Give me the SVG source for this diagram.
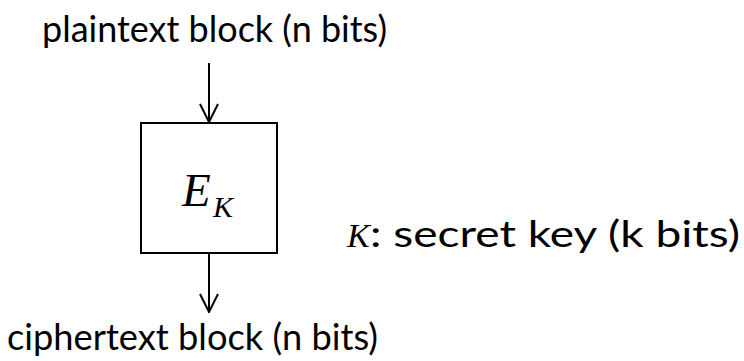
<svg xmlns="http://www.w3.org/2000/svg" width="744" height="361" viewBox="0 0 744 361">
<defs>
<style>
.lbl{font-family:Lato,"Open Sans","Liberation Sans",sans-serif;font-size:37px;fill:#000}
.math{font-family:"Liberation Serif","DejaVu Serif",serif;font-style:italic;fill:#000}
.edge{stroke:#000;stroke-width:2;fill:none}
</style>
<marker id="arr" viewBox="0 0 20 20" refX="19" refY="10" markerWidth="20" markerHeight="20" markerUnits="userSpaceOnUse" orient="auto">
<path d="M1,1 L19,10 L1,19" fill="none" stroke="#000" stroke-width="2"/>
</marker>
</defs>
<rect width="744" height="361" fill="#fff"/>
<g id="plaintext"><text class="lbl" x="42" y="42" textLength="345" lengthAdjust="spacingAndGlyphs">plaintext block (n bits)</text></g>
<g id="cipher">
<rect x="141" y="123" width="136" height="130" fill="#fff" stroke="#000" stroke-width="2"/>
<text class="math" x="182" y="206" font-size="47">E</text>
<text class="math" x="213" y="217" font-size="30">K</text>
</g>
<g id="key">
<text class="math" x="347" y="247" font-size="34">K</text>
<text class="lbl" x="370" y="247" textLength="370" lengthAdjust="spacingAndGlyphs">: secret key (k bits)</text>
</g>
<g id="ciphertext"><text class="lbl" x="7" y="350" textLength="371" lengthAdjust="spacingAndGlyphs">ciphertext block (n bits)</text></g>
<g id="connectors">
<line class="edge" x1="209" y1="63" x2="209" y2="122" marker-end="url(#arr)"/>
<line class="edge" x1="209" y1="254" x2="209" y2="312" marker-end="url(#arr)"/>
</g>
</svg>
